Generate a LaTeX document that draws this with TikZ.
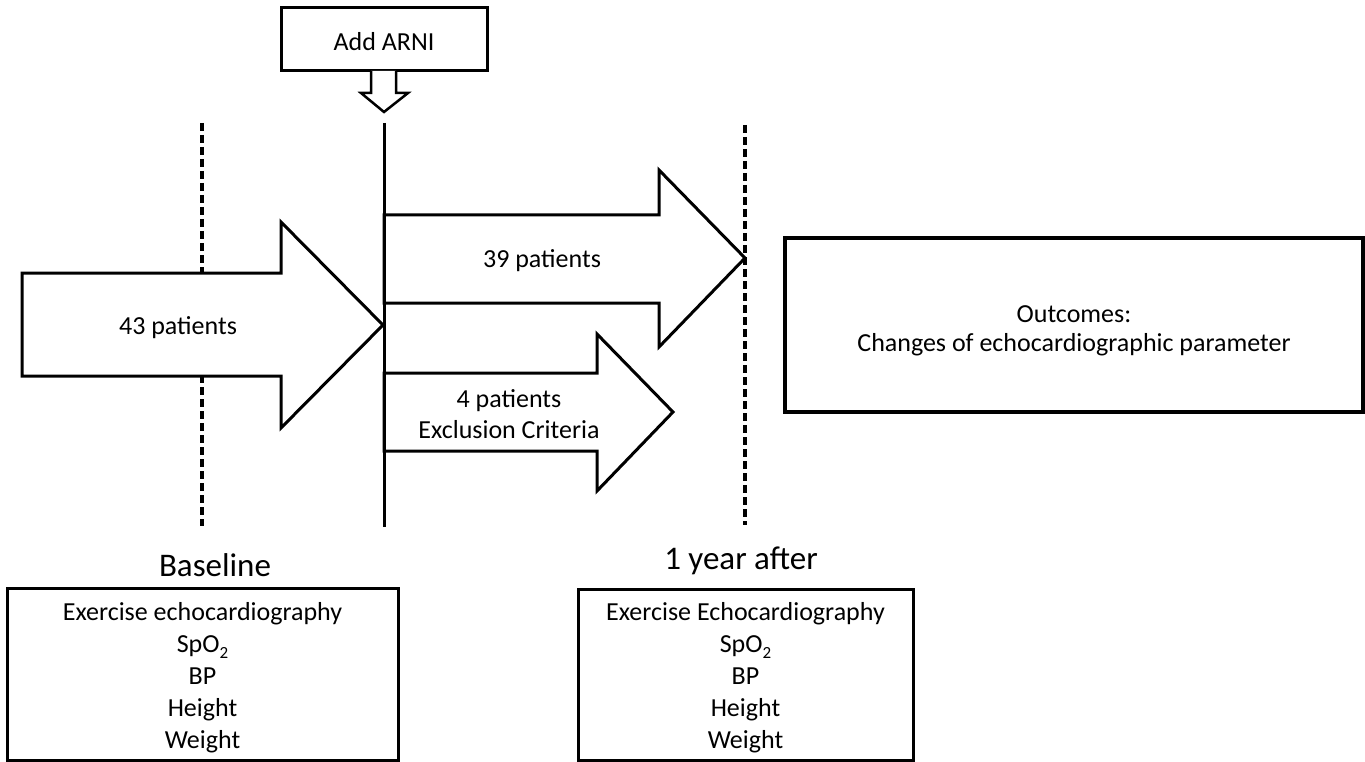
\documentclass[tikz,border=0pt]{standalone}
\usepackage{fontspec}
\setmainfont{Carlito}
\newcommand{\subtwo}{\raisebox{-0.45ex}{\fontsize{17}{17}\selectfont 2}}
\begin{document}
\begin{tikzpicture}[x=1pt,y=-1pt,
  txt/.style={font=\fontsize{26}{31}\selectfont, inner sep=0pt, align=center},
  bigtxt/.style={font=\fontsize{33}{38}\selectfont, inner sep=0pt},
  boxed/.style={draw=black, line width=3pt, fill=white, inner sep=0pt, align=center,
     font=\fontsize{26}{32}\selectfont},
  bigarrow/.style={draw=black, line width=3pt, fill=white, line join=miter},
  dline/.style={draw=black, line width=3.5pt, dash pattern=on 8pt off 4pt},
  sline/.style={draw=black, line width=3pt}]
\useasboundingbox (0,0) rectangle (1365,762);
\fill[white] (0,0) rectangle (1365,762);

% timeline markers
\coordinate (d1t) at (202,123); \coordinate (d1b) at (202,526);
\coordinate (d2t) at (745,125); \coordinate (d2b) at (745,525);
\coordinate (vt) at (384,123);  \coordinate (vb) at (384,527);
\draw[dline] (d1t) -- (d1b);
\draw[dline] (d2t) -- (d2b);

% 43 patients arrow
\draw[bigarrow] (22,273) -- (281,273) -- (281,222) -- (383,325) -- (281,428) -- (281,376) -- (22,376) -- cycle;
\node[txt] (p43) at (178,328) {43 patients};

% 39 patients arrow
\draw[bigarrow] (384,215) -- (659,215) -- (659,170) -- (745,258) -- (659,347) -- (659,303) -- (384,303) -- cycle;
\node[txt] (p39) at (542,261) {39 patients};

% 4 patients arrow
\draw[bigarrow] (384,373) -- (597,373) -- (597,334) -- (673,412) -- (597,491) -- (597,451) -- (384,451) -- cycle;
\node[txt] (p4) at (509,414) {4 patients\\Exclusion Criteria};

% main vertical line
\draw[sline] (vt) -- (vb);

% Add ARNI box and hollow arrow
\node[boxed, minimum width=206pt, minimum height=63pt] (arni) at (384,39.5) {};
\node[txt] (arnit) at (384,42) {Add ARNI};
\draw[draw=black, line width=2.5pt, fill=white, line join=miter]
  (371,71) -- (371,93) -- (361,93) -- (384,112) -- (408,93) -- (396,93) -- (396,71);

% Outcomes box
\node[boxed, line width=4pt, minimum width=578pt, minimum height=174pt] (out) at (1074,325) {};
\node[txt, font=\fontsize{26}{29}\selectfont] (outt) at (1074,331)
  {Outcomes:\\Changes of echocardiographic parameter};

% labels
\node[bigtxt] (base) at (215,565) {Baseline};
\node[bigtxt] (after) at (741,561) {1 year after};

% bottom boxes
\node[boxed, minimum width=391pt, minimum height=172pt] (bbox) at (202.5,674) {};
\node[txt, font=\fontsize{26}{32}\selectfont] (bboxt) at (202.5,678)
  {Exercise echocardiography\\SpO\subtwo\\BP\\Height\\Weight};
\node[boxed, minimum width=335pt, minimum height=171pt] (abox) at (745.5,674.5) {};
\node[txt, font=\fontsize{26}{32}\selectfont] (aboxt) at (745.5,678)
  {Exercise Echocardiography\\SpO\subtwo\\BP\\Height\\Weight};
\end{tikzpicture}
\end{document}
